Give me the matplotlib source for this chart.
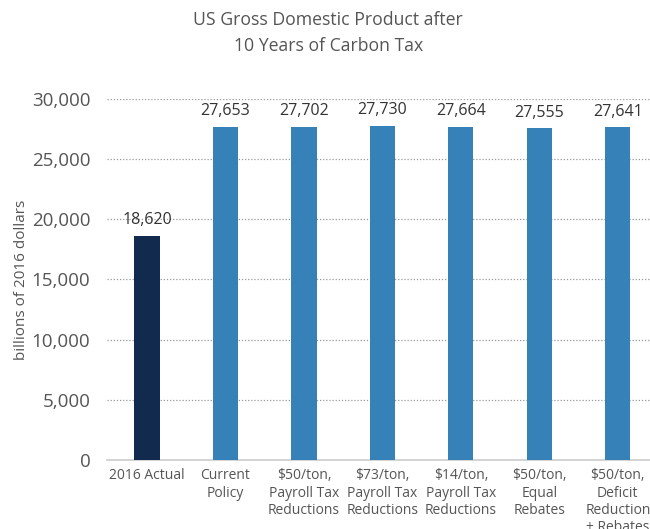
import matplotlib
matplotlib.use("Agg")
import matplotlib.pyplot as plt

categories = ["2016 Actual", "Current\nPolicy", "$50/ton,\nPayroll Tax\nReductions",
              "$73/ton,\nPayroll Tax\nReductions", "$14/ton,\nPayroll Tax\nReductions",
              "$50/ton,\nEqual\nRebates", "$50/ton,\nDeficit\nReduction\n+ Rebates"]
values = [18620, 27653, 27702, 27730, 27664, 27555, 27641]
colors = ["#132a4f"] + ["#3682b8"] * 6
yticks = [0, 5000, 10000, 15000, 20000, 25000, 30000]

plt.rcParams['font.family'] = ['Open Sans', 'DejaVu Sans']
grey = "#555555"

fig = plt.figure(figsize=(6.5, 5.29), dpi=100)
ax = fig.add_axes([0.1646, 0.1304, 0.8354, 0.6825])
x = list(range(len(categories)))
ax.bar(x, values, width=0.32, color=colors, zorder=3)
for xi, v in zip(x, values):
    ax.text(xi, v + 650, f"{v:,}", ha="center", va="bottom", fontsize=11.5, color="#333333")
ax.set_xlim(-0.51, 6.41)
ax.set_ylim(0, 30000)
ax.set_yticks(yticks)
ax.set_yticklabels([f"{t:,}" for t in yticks], fontsize=13.5, color=grey)
ax.set_xticks(x)
ax.set_xticklabels(categories, fontsize=10, color=grey, linespacing=1.2)
ax.tick_params(length=0, pad=12)
ax.tick_params(axis='x', pad=6)
for t in yticks[1:]:
    ax.axhline(t, color="#999999", linestyle=(0, (1, 1.5)), linewidth=0.9, zorder=1)
for s in ["top", "right", "left"]:
    ax.spines[s].set_visible(False)
ax.spines["bottom"].set_color("#cccccc")
ax.spines["bottom"].set_linewidth(1.2)
ax.set_ylabel("billions of 2016 dollars", fontsize=11, color=grey, labelpad=2)
fig.text(0.505, 0.937, "US Gross Domestic Product after\n10 Years of Carbon Tax",
         ha="center", va="center", fontsize=12.7, color="#555555", linespacing=1.55)
fig.savefig("out.png", dpi=100)
